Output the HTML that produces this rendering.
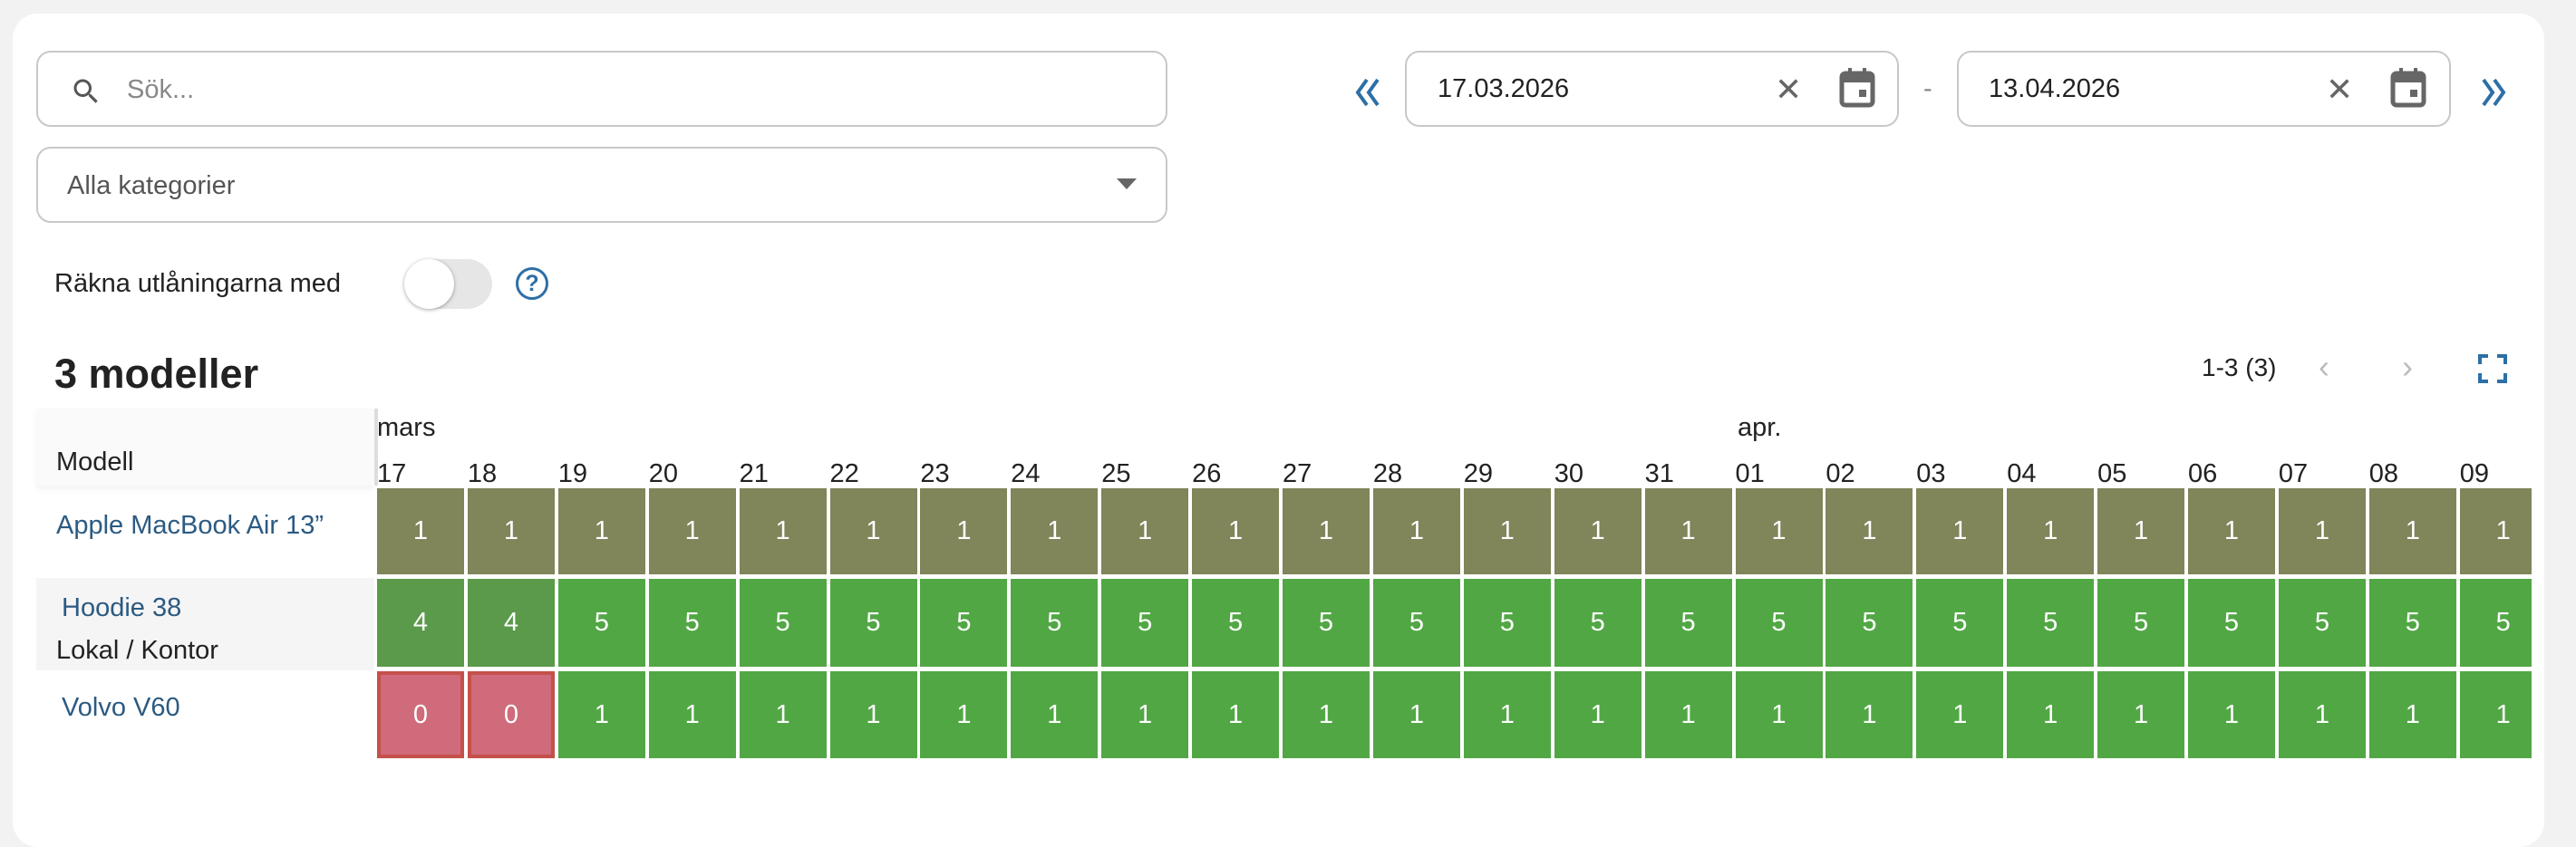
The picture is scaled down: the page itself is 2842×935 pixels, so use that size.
<!DOCTYPE html>
<html><head><meta charset="utf-8"><style>
*{box-sizing:border-box;margin:0;padding:0}
body{width:2842px;height:908px;background:#f2f2f2;font-family:"Liberation Sans",Arial,sans-serif;position:relative;overflow:hidden;color:#222}
.card{position:absolute;left:14px;top:15px;width:2793px;height:920px;background:#fff;border-radius:28px;overflow:hidden}
.a{position:absolute}
.inp{position:absolute;border:2px solid #c8c8c8;border-radius:16px;background:#fff}
.t{position:absolute;font-size:29px;line-height:1;white-space:nowrap}
.cell{position:absolute;width:96px;color:#fff;font-size:29px;display:flex;align-items:center;justify-content:center}
.day{position:absolute;top:494px;font-size:29px;line-height:1}
#g{position:absolute;left:0;top:0;width:2779px;height:900px;overflow:hidden}
</style></head><body>
<div class="card">
<div class="inp" style="left:26px;top:41px;width:1248px;height:84px"></div>
<svg class="a" style="left:63px;top:68px" width="36" height="36" viewBox="0 0 24 24"><path fill="#555" d="M15.5 14h-.79l-.28-.27A6.47 6.47 0 0 0 16 9.5 6.5 6.5 0 1 0 9.5 16c1.610 0 3.09-.59 4.23-1.57l.27.28v.79l5 4.99L20.49 19l-4.99-5zm-6 0C7.01 14 5 11.99 5 9.5S7.01 5 9.5 5 14 7.01 14 9.5 11.99 14 9.5 14z"/></svg>
<div class="t" style="left:126px;top:70px;color:#888">Sök...</div>
<div class="inp" style="left:26px;top:147px;width:1248px;height:84px"></div>
<div class="t" style="left:60px;top:176px;color:#555">Alla kategorier</div>
<svg class="a" style="left:1218px;top:182px" width="22" height="14"><path d="M0 0h22L11 12z" fill="#666"/></svg>
<div class="t" style="left:46px;top:284px;color:#222">Räkna utlåningarna med</div>
<div class="a" style="left:432px;top:271px;width:97px;height:55px;border-radius:28px;background:#e6e6e6"></div>
<div class="a" style="left:432px;top:271px;width:55px;height:55px;border-radius:50%;background:#fff;box-shadow:0 1px 4px rgba(0,0,0,.35)"></div>
<div class="a" style="left:555px;top:280px;width:36px;height:36px;border:3px solid #2d6fa6;border-radius:50%;color:#2d6fa6;font-size:25px;font-weight:bold;text-align:center;line-height:30px">?</div>
<svg class="a" style="left:1480px;top:70px" width="30" height="34" viewBox="0 0 30 34" fill="none" stroke="#2d6fa6" stroke-width="4"><path d="M14 3L4 17l10 14M26 3L16 17l10 14"/></svg>
<div class="inp" style="left:1536px;top:41px;width:545px;height:84px"></div>
<div class="t" style="left:1572px;top:69px">17.03.2026</div>
<div class="t" style="left:1944px;top:66px;color:#666;font-size:36px">✕</div>
<svg class="a" style="left:2015px;top:60px" width="40" height="44" viewBox="0 0 20 22"><rect x="1.5" y="3" width="17" height="17.5" rx="2" fill="none" stroke="#666" stroke-width="2.5"/><rect x="1.5" y="3" width="17" height="5" fill="#666"/><rect x="5" y="0" width="2" height="4" fill="#666"/><rect x="13" y="0" width="2" height="4" fill="#666"/><rect x="11" y="12" width="4" height="4" fill="#666"/></svg>
<div class="t" style="left:2108px;top:69px;color:#888">-</div>
<div class="inp" style="left:2145px;top:41px;width:545px;height:84px"></div>
<div class="t" style="left:2180px;top:69px">13.04.2026</div>
<div class="t" style="left:2552px;top:66px;color:#666;font-size:36px">✕</div>
<svg class="a" style="left:2623px;top:60px" width="40" height="44" viewBox="0 0 20 22"><rect x="1.5" y="3" width="17" height="17.5" rx="2" fill="none" stroke="#666" stroke-width="2.5"/><rect x="1.5" y="3" width="17" height="5" fill="#666"/><rect x="5" y="0" width="2" height="4" fill="#666"/><rect x="13" y="0" width="2" height="4" fill="#666"/><rect x="11" y="12" width="4" height="4" fill="#666"/></svg>
<svg class="a" style="left:2722px;top:70px" width="30" height="34" viewBox="0 0 30 34" fill="none" stroke="#2d6fa6" stroke-width="4"><path d="M4 3l10 14L4 31M16 3l10 14-10 14"/></svg>
<div class="t" style="left:46px;top:375px;font-size:45px;font-weight:bold;color:#222">3 modeller</div>
<div class="t" style="left:2415px;top:377px;font-size:28px">1-3 (3)</div>
<div class="t" style="left:2544px;top:372px;font-size:36px;color:#bbb">‹</div>
<div class="t" style="left:2636px;top:372px;font-size:36px;color:#bbb">›</div>
<svg class="a" style="left:2720px;top:376px" width="32" height="32" viewBox="0 0 32 32" fill="none" stroke="#2d6fa6" stroke-width="4"><path d="M2 11V2h9M21 2h9v9M30 21v9h-9M11 30H2v-9"/></svg>
<div class="a" style="left:26px;top:436px;width:373px;height:85px;background:#fafafa;box-shadow:0 4px 6px rgba(0,0,0,.05)"></div>
<div class="t" style="left:48px;top:481px">Modell</div>
<div class="a" style="left:399px;top:436px;width:4px;height:85px;background:#ddd"></div>
<div class="t" style="left:48px;top:551px;color:#2b5a82">Apple MacBook Air 13”</div>
<div class="a" style="left:26px;top:623px;width:373px;height:102px;background:#f5f5f5"></div>
<div class="t" style="left:54px;top:642px;color:#2b5a82">Hoodie 38</div>
<div class="t" style="left:48px;top:689px">Lokal / Kontor</div>
<div class="t" style="left:54px;top:752px;color:#2b5a82">Volvo V60</div>
<div class="t" style="left:402px;top:443px">mars</div>
<div class="t" style="left:1903px;top:443px">apr.</div>
<div id="g"></div>
<script>
var days=["17","18","19","20","21","22","23","24","25","26","27","28","29","30","31","01","02","03","04","05","06","07","08","09"];
var h="";
for(var i=0;i<days.length;i++){var x=402+i*99.9;
h+='<div class="day" style="left:'+x+'px">'+days[i]+'</div>';
h+='<div class="cell" style="left:'+x+'px;top:524px;height:95px;background:#80855a">1</div>';
h+='<div class="cell" style="left:'+x+'px;top:624px;height:97px;background:'+(i<2?'#5a9a4a':'#52a745')+'">'+(i<2?4:5)+'</div>';
if(i<2)h+='<div class="cell" style="left:'+x+'px;top:726px;height:96px;background:#cf6b7a;border:4px solid #c4514a">0</div>';
else h+='<div class="cell" style="left:'+x+'px;top:726px;height:96px;background:#52a745">1</div>';}
document.getElementById("g").innerHTML=h;
</script>
</div>
</body></html>
